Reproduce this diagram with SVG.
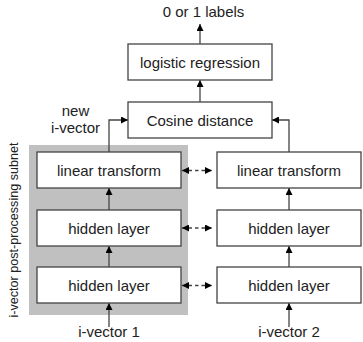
<svg xmlns="http://www.w3.org/2000/svg" width="363" height="342" viewBox="0 0 363 342">
<defs>
<style>
.box{fill:#fff;stroke:#444;stroke-width:1.3}
.t{font-family:"Liberation Sans",Arial,sans-serif;font-size:15px;fill:#222;text-anchor:middle}
.c{fill:none;stroke:#444;stroke-width:1.3}
.d{fill:none;stroke:#444;stroke-width:1.3;stroke-dasharray:3.5 3}
</style>
<marker id="ah" viewBox="0 0 7 7" refX="7" refY="3.5" markerWidth="7" markerHeight="7" markerUnits="userSpaceOnUse" orient="auto-start-reverse">
<path d="M0,0L7,3.5L0,7z" fill="#000"/>
</marker>
</defs>
<rect x="29" y="145" width="159" height="170" fill="#c0c0c0"/>
<text class="t" style="font-size:12.6px" transform="translate(18,230) rotate(-90)">i-vector post-processing subnet</text>
<g id="connectors">
<path class="c" d="M200,44V24" marker-end="url(#ah)"/>
<path class="c" d="M200,102V80" marker-end="url(#ah)"/>
<path class="c" d="M109,152V120H128" marker-end="url(#ah)"/>
<path class="c" d="M289,152V120H272" marker-end="url(#ah)"/>
<path class="c" d="M109,210V188" marker-end="url(#ah)"/>
<path class="c" d="M109,267V246" marker-end="url(#ah)"/>
<path class="c" d="M109,327V303" marker-end="url(#ah)"/>
<path class="c" d="M289,210V188" marker-end="url(#ah)"/>
<path class="c" d="M289,267V246" marker-end="url(#ah)"/>
<path class="c" d="M289,327V303" marker-end="url(#ah)"/>
<path class="d" d="M182,170.5H212" marker-start="url(#ah)" marker-end="url(#ah)"/>
<path class="d" d="M182,228H212" marker-start="url(#ah)" marker-end="url(#ah)"/>
<path class="d" d="M182,285.5H212" marker-start="url(#ah)" marker-end="url(#ah)"/>
</g>
<g id="labels-out"><text class="t" x="203.5" y="17">0 or 1 labels</text></g>
<g id="logistic"><rect class="box" x="128" y="44" width="144" height="36"/><text class="t" x="200" y="67.5">logistic regression</text></g>
<g id="cosine"><rect class="box" x="128" y="102" width="144" height="36"/><text class="t" x="200" y="125.5">Cosine distance</text></g>
<g id="new-ivector"><text class="t" x="75.5" y="116">new</text><text class="t" x="75.5" y="133">i-vector</text></g>
<g id="lt1"><rect class="box" x="37" y="152" width="144" height="36"/><text class="t" x="109" y="175.5">linear transform</text></g>
<g id="hl1a"><rect class="box" x="37" y="210" width="144" height="36"/><text class="t" x="109" y="233.5">hidden layer</text></g>
<g id="hl1b"><rect class="box" x="37" y="267" width="144" height="36"/><text class="t" x="109" y="290.5">hidden layer</text></g>
<g id="lt2"><rect class="box" x="217" y="152" width="144" height="36"/><text class="t" x="289" y="175.5">linear transform</text></g>
<g id="hl2a"><rect class="box" x="217" y="210" width="144" height="36"/><text class="t" x="289" y="233.5">hidden layer</text></g>
<g id="hl2b"><rect class="box" x="217" y="267" width="144" height="36"/><text class="t" x="289" y="290.5">hidden layer</text></g>
<g id="iv1"><text class="t" x="109" y="337">i-vector 1</text></g>
<g id="iv2"><text class="t" x="289" y="337">i-vector 2</text></g>
</svg>
